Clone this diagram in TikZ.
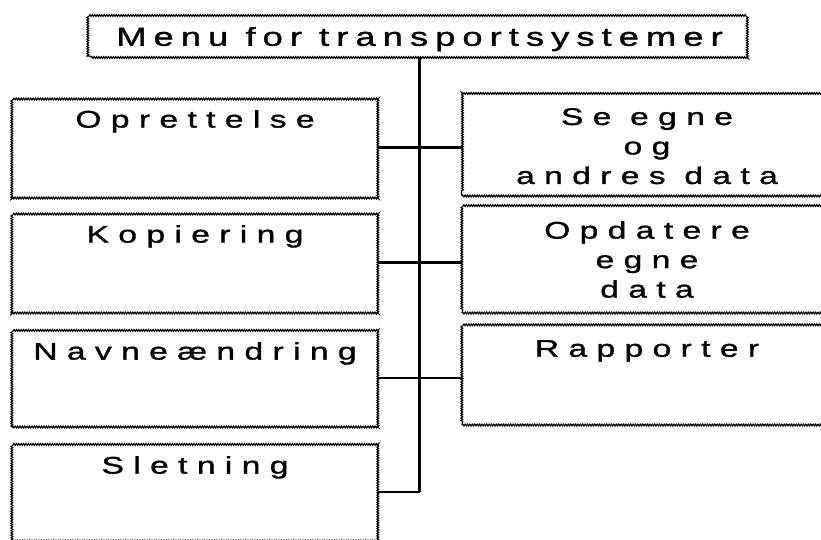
\documentclass[tikz,border=0pt]{standalone}
\usepackage{fontspec}
\usetikzlibrary{decorations.pathmorphing}
\newfontfamily\boxfont{Liberation Sans}[FakeStretch=1.4, LetterSpace=39, FakeBold=1.3]
\newfontfamily\titlefont{Liberation Sans}[FakeStretch=1.4, LetterSpace=27, FakeBold=1.3]
\tikzset{
  wbox/.style={draw, decorate, decoration={snake, amplitude=0.9pt, segment length=2.4pt},
    line width=1.1pt, inner sep=0pt, outer sep=0pt, anchor=north west},
  lbl/.style={inner sep=0pt, align=center, anchor=north,
    font=\boxfont\fontsize{24}{29.5}\selectfont},
  trunk/.style={line width=3pt},
  conn/.style={line width=2.4pt}
}
\begin{document}
\begin{tikzpicture}[x=1pt,y=-1pt]
\useasboundingbox (0,0) rectangle (821,540);
\clip (0,0) rectangle (821,540);
% title
\node[wbox, anchor=center, minimum width=657pt, minimum height=42pt,
  font=\titlefont\fontsize{26}{30}\selectfont, text height=18.6pt, text depth=0pt]
  (title) at (419.5,36.5) {Menu for transportsystemer};
% left boxes
\node[wbox, minimum width=366pt, minimum height=101pt] (op) at (12,97) {};
\node[wbox, minimum width=366pt, minimum height=101pt] (kop) at (12,212) {};
\node[wbox, minimum width=366pt, minimum height=98pt] (navn) at (12,329) {};
\node[wbox, minimum width=366pt, minimum height=98pt] (slet) at (12,443) {};
% right boxes
\node[wbox, minimum width=370pt, minimum height=101pt] (se) at (462,95) {};
\node[wbox, minimum width=370pt, minimum height=105pt] (opd) at (462,208) {};
\node[wbox, minimum width=370pt, minimum height=98pt] (rap) at (462,327) {};
% labels
\node[lbl] (opT) at ([yshift=-13pt]op.north) {Oprettelse};
\node[lbl] (kopT) at ([yshift=-13pt]kop.north) {Kopiering};
\node[lbl] (navnT) at ([yshift=-13pt]navn.north) {Navneændring};
\node[lbl] (sletT) at ([yshift=-13pt]slet.north) {Sletning};
\node[lbl] (seT) at ([yshift=-13pt]se.north) {Se egne\\og\\andres data};
\node[lbl] (opdT) at ([yshift=-13pt]opd.north) {Opdatere\\egne\\data};
\node[lbl] (rapT) at ([yshift=-13pt]rap.north) {Rapporter};
% connectors
\coordinate (tend) at (title.south |- slet.east);
\draw[trunk] (title.south) -- (tend);
\draw[conn] (op.east) -- (op.east -| se.west);
\draw[conn] (kop.east) -- (kop.east -| opd.west);
\draw[conn] (navn.east) -- (navn.east -| rap.west);
\draw[conn] (slet.east) -- (tend);
\end{tikzpicture}
\end{document}
